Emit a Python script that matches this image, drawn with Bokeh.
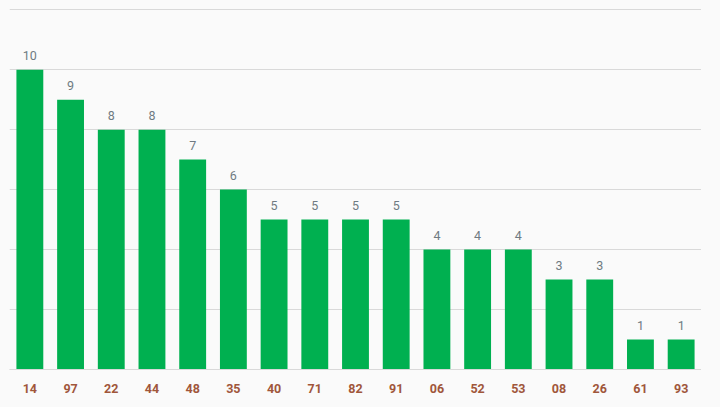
from bokeh.plotting import figure
from bokeh.models import ColumnDataSource, FixedTicker, LabelSet
from bokeh.core.properties import value
from bokeh.embed import file_html
from bokeh.resources import INLINE

categories = ["14", "97", "22", "44", "48", "35", "40", "71", "82", "91", "06", "52", "53", "08", "26", "61", "93"]
values = [10, 9, 8, 8, 7, 6, 5, 5, 5, 5, 4, 4, 4, 3, 3, 1, 1]
y_ticks = [0, 2, 4, 6, 8, 10, 12]

source = ColumnDataSource(data=dict(cat=categories, val=values, lab=[str(v) for v in values]))

p = figure(x_range=categories, y_range=(0, 12.04), width=701, height=399,
           output_backend="svg", toolbar_location=None,
           min_border_left=9, min_border_right=0, min_border_top=8, min_border_bottom=30)
p.background_fill_color = "#fafafa"
p.border_fill_color = "#fafafa"
p.outline_line_color = None
p.x_range.range_padding = 0

p.yaxis.visible = False
p.yaxis.ticker = FixedTicker(ticks=y_ticks)
p.ygrid.grid_line_color = None
p.xgrid.grid_line_color = None
p.hspan(y=y_ticks, line_color="#d9d9d9", line_width=1)

p.vbar(x="cat", top="val", width=0.66, source=source, color="#00b050", line_color=None)

labels = LabelSet(x="cat", y="val", text="lab", source=source, text_align="center",
                  text_baseline="bottom", y_offset=10, text_font=value("Roboto"),
                  text_font_size="12.5px", text_color="#6f7a82")
p.add_layout(labels)

p.xaxis.axis_line_color = "#d9d9d9"
p.xaxis.major_tick_line_color = None
p.xaxis.minor_tick_line_color = None
p.xaxis.major_label_text_font = "Roboto"
p.xaxis.major_label_text_font_style = "bold"
p.xaxis.major_label_text_font_size = "12.5px"
p.xaxis.major_label_text_color = "#a0563a"
p.xaxis.major_label_standoff = 8

html = file_html(p, INLINE)
html = html.replace("</head>", "<style>html, body { background: #fafafa !important; }</style></head>", 1)
open("out.html", "w").write(html)
